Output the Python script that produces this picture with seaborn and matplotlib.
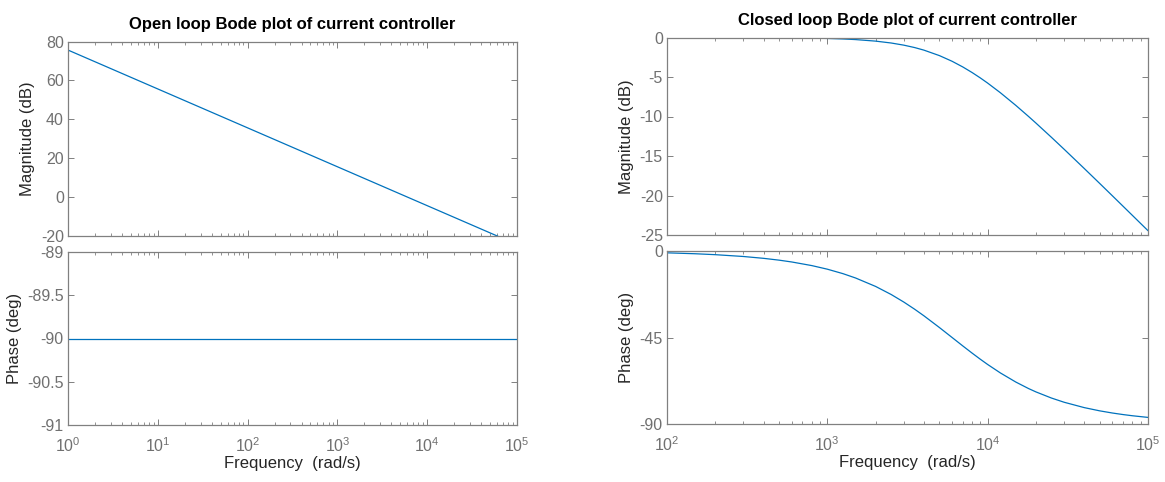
import numpy as np
import pandas as pd
import matplotlib
matplotlib.use("Agg")
import matplotlib.pyplot as plt
import matplotlib.ticker as mticker
import seaborn as sns

# ---------------- data ----------------
ol_freq = [1, 10, 100, 1000, 10000, 100000]
ol_mag_db = [75.6, 55.6, 35.6, 15.6, -4.4, -24.4]
ol_phase_freq = [1, 100000]
ol_phase_deg = [-90, -90]

cl_freq = [100, 150, 200, 300, 400, 500, 600, 800, 1000, 1250, 1500, 2000, 2500,
           3000, 3500, 4000, 5000, 6000, 7000, 8000, 9000, 10000, 12000, 15000,
           18000, 20000, 25000, 30000, 40000, 50000, 60000, 70000, 80000, 100000]
cl_mag_db = [-0.001, -0.003, -0.005, -0.011, -0.019, -0.030, -0.043, -0.077, -0.119,
             -0.185, -0.263, -0.458, -0.696, -0.969, -1.271, -1.597, -2.291, -3.010,
             -3.731, -4.437, -5.119, -5.772, -6.990, -8.603, -10.0, -10.832, -12.639,
             -14.150, -16.575, -18.478, -20.043, -21.372, -22.525, -24.453]
cl_phase_deg = [-0.95, -1.43, -1.91, -2.86, -3.81, -4.76, -5.71, -7.59, -9.46, -11.77,
                -14.04, -18.43, -22.62, -26.57, -30.26, -33.69, -39.81, -45.0, -49.40,
                -53.13, -56.31, -59.04, -63.43, -68.20, -71.57, -73.30, -76.50, -78.69,
                -81.47, -83.16, -84.29, -85.10, -85.71, -86.57]

ol_mag_ticks = [-20, 0, 20, 40, 60, 80]
ol_phase_ticks = [-91, -90.5, -90, -89.5, -89]
cl_mag_ticks = [-25, -20, -15, -10, -5, 0]
cl_phase_ticks = [-90, -45, 0]

titles = ["Open loop Bode plot of current controller",
          "Closed loop Bode plot of current controller"]

# ---------------- style ----------------
sns.set_theme(style="white")
plt.rcParams["font.family"] = ["Liberation Sans", "DejaVu Sans"]
plt.rcParams["mathtext.fontset"] = "custom"
plt.rcParams["mathtext.rm"] = "Liberation Sans"
plt.rcParams["mathtext.it"] = "Liberation Sans:italic"
plt.rcParams["mathtext.bf"] = "Liberation Sans:bold"

LINE = "#0072BD"
AXC = "#808080"
TICKC = "#707070"
LABC = "#262626"

W, H = 1165, 482
fig = plt.figure(figsize=(W / 100, H / 100), dpi=100)


def add_ax(x0, x1, ytop, ybot):
    return fig.add_axes([x0 / W, (H - ybot) / H, (x1 - x0) / W, (ybot - ytop) / H])


ax_olm = add_ax(68, 517, 41.5, 236)
ax_olp = add_ax(68, 517, 252, 425)
ax_clm = add_ax(667, 1148, 37.5, 235)
ax_clp = add_ax(667, 1148, 251, 424)

sns.lineplot(x=ol_freq, y=ol_mag_db, ax=ax_olm, color=LINE, linewidth=0.9)
sns.lineplot(x=ol_phase_freq, y=ol_phase_deg, ax=ax_olp, color=LINE, linewidth=0.9)
sns.lineplot(x=cl_freq, y=cl_mag_db, ax=ax_clm, color=LINE, linewidth=0.9)
sns.lineplot(x=cl_freq, y=cl_phase_deg, ax=ax_clp, color=LINE, linewidth=0.9)


def style(ax, xlim, ylim, yticks, ylabel, xlabels):
    ax.set_xscale("log")
    ax.set_xlim(*xlim)
    ax.set_ylim(*ylim)
    ax.set_yticks(yticks)
    ax.set_yticklabels(["%g" % v for v in yticks])
    ax.xaxis.set_major_locator(mticker.LogLocator(base=10, numticks=20))
    ax.xaxis.set_minor_locator(mticker.LogLocator(base=10, subs=np.arange(2, 10), numticks=20))
    ax.xaxis.set_minor_formatter(mticker.NullFormatter())
    ax.yaxis.set_minor_locator(mticker.NullLocator())
    for s in ax.spines.values():
        s.set_color(AXC)
        s.set_linewidth(0.9)
        s.set_visible(True)
    ax.tick_params(axis="both", which="major", direction="in", length=4.5, width=0.7,
                   color=AXC, labelcolor=TICKC, labelsize=11.5, top=True, right=True,
                   left=True, bottom=True)
    ax.tick_params(axis="x", which="minor", direction="in", length=2.5, width=0.6,
                   color=AXC, top=True, bottom=True)
    ax.tick_params(axis="x", which="major", pad=8)
    ax.tick_params(axis="y", which="major", pad=3)
    if not xlabels:
        ax.tick_params(axis="x", which="both", labelbottom=False)
        ax.set_xlabel("")
    else:
        ax.set_xlabel("Frequency  (rad/s)", fontsize=12, color=LABC, labelpad=1)
    ax.set_ylabel(ylabel, fontsize=12, color=LABC, labelpad=4)
    ax.grid(False)
    ax.set_facecolor("white")


style(ax_olm, (1, 1e5), (-20, 80), ol_mag_ticks, "Magnitude (dB)", False)
style(ax_olp, (1, 1e5), (-91, -89), ol_phase_ticks, "Phase (deg)", True)
style(ax_clm, (1e2, 1e5), (-25, 0), cl_mag_ticks, "Magnitude (dB)", False)
style(ax_clp, (1e2, 1e5), (-90, 0), cl_phase_ticks, "Phase (deg)", True)

ax_olm.set_title(titles[0], fontsize=12, fontweight="bold", color="black", pad=9)
ax_clm.set_title(titles[1], fontsize=12, fontweight="bold", color="black", pad=9)

fig.savefig("out.png", dpi=100, facecolor="white")
